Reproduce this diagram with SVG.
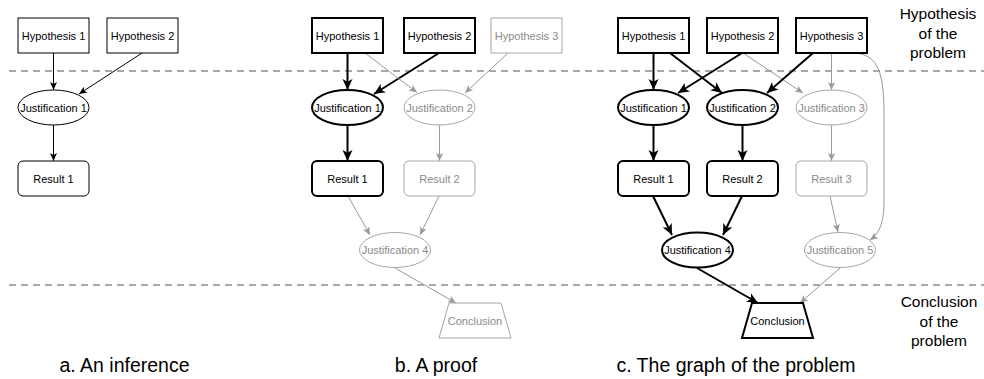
<svg xmlns="http://www.w3.org/2000/svg" width="984" height="379" viewBox="0 0 984 379">
<style>
text{font-family:"Liberation Sans",Arial,sans-serif;}
.n{font-size:11px;text-anchor:middle;fill:#000;}
.ng{font-size:11px;text-anchor:middle;fill:#8a8a8a;}
.box{fill:#fff;stroke:#000;stroke-width:1;}
.boxT{fill:#fff;stroke:#000;stroke-width:2;}
.boxG{fill:#fff;stroke:#a6a6a6;stroke-width:1;}
.e{stroke:#000;stroke-width:1;fill:none;marker-end:url(#ah);}
.eT{stroke:#000;stroke-width:2;fill:none;marker-end:url(#ahT);}
.eG{stroke:#999;stroke-width:1;fill:none;marker-end:url(#ahG);}
.dash{stroke:#8c8c8c;stroke-width:1.5;stroke-dasharray:7 5;fill:none;}
.cap{font-size:19.5px;text-anchor:middle;fill:#000;}
.side{font-size:15.5px;text-anchor:middle;fill:#000;}
</style>
<defs>
<marker id="ah" markerUnits="userSpaceOnUse" markerWidth="8" markerHeight="8" viewBox="0 0 8 8" refX="8" refY="4" orient="auto"><path d="M0,0.5 L8,4 L0,7.5 L2,4 Z" fill="#000"/></marker>
<marker id="ahT" markerUnits="userSpaceOnUse" markerWidth="11" markerHeight="11" viewBox="0 0 11 11" refX="11" refY="5.5" orient="auto"><path d="M0,0.5 L11,5.5 L0,10.5 L2.8,5.5 Z" fill="#000"/></marker>
<marker id="ahG" markerUnits="userSpaceOnUse" markerWidth="8" markerHeight="8" viewBox="0 0 8 8" refX="8" refY="4" orient="auto"><path d="M0,0.5 L8,4 L0,7.5 L2,4 Z" fill="#999"/></marker>
</defs>
<rect width="984" height="379" fill="#fff"/>
<g id="separators">
<line class="dash" x1="9" y1="71" x2="984" y2="71"/>
<line class="dash" x1="9" y1="285" x2="984" y2="285"/>
</g>
<g id="connectors">
<!-- panel a -->
<line class="e" x1="53.5" y1="53" x2="53.5" y2="90"/>
<line class="e" x1="142" y1="53" x2="79" y2="94"/>
<line class="e" x1="53.5" y1="125" x2="53.5" y2="161"/>
<!-- panel b -->
<line class="eT" x1="347.5" y1="53" x2="347.5" y2="90"/>
<line class="eT" x1="439" y1="53" x2="374" y2="94"/>
<line class="eG" x1="365" y1="53" x2="417" y2="92.5"/>
<line class="eG" x1="508" y1="53" x2="465" y2="93"/>
<line class="eT" x1="347.5" y1="125" x2="347.5" y2="161"/>
<line class="eG" x1="439.5" y1="125" x2="439.5" y2="161"/>
<line class="eG" x1="348" y1="196" x2="370" y2="235"/>
<line class="eG" x1="439" y1="196" x2="420" y2="235"/>
<line class="eG" x1="395" y1="268" x2="456" y2="303"/>
<!-- panel c -->
<line class="eT" x1="653.5" y1="53" x2="653.5" y2="90"/>
<line class="eT" x1="670" y1="53" x2="722" y2="93"/>
<line class="eT" x1="742" y1="53" x2="678" y2="93"/>
<line class="eG" x1="743" y1="53" x2="803" y2="93"/>
<line class="eT" x1="813" y1="53" x2="767" y2="93"/>
<line class="eG" x1="831.5" y1="53" x2="831.5" y2="90"/>
<path class="eG" d="M855,53 C878,55 884,72 884,115 L884,200 C884,222 880,233 870,240"/>
<line class="eT" x1="653.5" y1="125" x2="653.5" y2="161"/>
<line class="eT" x1="742.5" y1="125" x2="742.5" y2="161"/>
<line class="eG" x1="831.5" y1="125" x2="831.5" y2="161"/>
<line class="eT" x1="653" y1="196" x2="672" y2="235"/>
<line class="eT" x1="742" y1="196" x2="723" y2="235"/>
<line class="eG" x1="830" y1="196" x2="838" y2="232"/>
<line class="eT" x1="697" y1="268" x2="758" y2="303"/>
<line class="eG" x1="840" y1="268" x2="800" y2="303"/>
</g>
<!-- Panel a nodes -->
<g id="a-hyp1"><rect class="box" x="18" y="18" width="71" height="35"/><text class="n" x="53.5" y="39.5">Hypothesis 1</text></g>
<g id="a-hyp2"><rect class="box" x="107" y="18" width="71" height="35"/><text class="n" x="142.5" y="39.5">Hypothesis 2</text></g>
<g id="a-just1"><ellipse class="box" cx="53.5" cy="107.5" rx="35.5" ry="17.5"/><text class="n" x="53.5" y="111.5">Justification 1</text></g>
<g id="a-res1"><rect class="box" x="18" y="161" width="71" height="35" rx="5"/><text class="n" x="53.5" y="182.5">Result 1</text></g>
<!-- Panel b nodes -->
<g id="b-hyp1"><rect class="boxT" x="312" y="18" width="71" height="35"/><text class="n" x="347.5" y="39.5">Hypothesis 1</text></g>
<g id="b-hyp2"><rect class="boxT" x="404" y="18" width="71" height="35"/><text class="n" x="439.5" y="39.5">Hypothesis 2</text></g>
<g id="b-hyp3"><rect class="boxG" x="491" y="18" width="71" height="35"/><text class="ng" x="526.5" y="39.5">Hypothesis 3</text></g>
<g id="b-just1"><ellipse class="boxT" cx="347.5" cy="107.5" rx="35.5" ry="17.5"/><text class="n" x="347.5" y="111.5">Justification 1</text></g>
<g id="b-just2"><ellipse class="boxG" cx="439.5" cy="107.5" rx="35.5" ry="17.5"/><text class="ng" x="439.5" y="111.5">Justification 2</text></g>
<g id="b-res1"><rect class="boxT" x="312" y="161" width="71" height="35" rx="5"/><text class="n" x="347.5" y="182.5">Result 1</text></g>
<g id="b-res2"><rect class="boxG" x="404" y="161" width="71" height="35" rx="5"/><text class="ng" x="439.5" y="182.5">Result 2</text></g>
<g id="b-just4"><ellipse class="boxG" cx="395" cy="250" rx="35.5" ry="17.5"/><text class="ng" x="395" y="254">Justification 4</text></g>
<g id="b-concl"><polygon class="boxG" points="449,303 501,303 511,338 439,338"/><text class="ng" x="475" y="324.5">Conclusion</text></g>
<!-- Panel c nodes -->
<g id="c-hyp1"><rect class="boxT" x="618" y="18" width="71" height="35"/><text class="n" x="653.5" y="39.5">Hypothesis 1</text></g>
<g id="c-hyp2"><rect class="boxT" x="707" y="18" width="71" height="35"/><text class="n" x="742.5" y="39.5">Hypothesis 2</text></g>
<g id="c-hyp3"><rect class="boxT" x="796" y="18" width="71" height="35"/><text class="n" x="831.5" y="39.5">Hypothesis 3</text></g>
<g id="c-just1"><ellipse class="boxT" cx="653.5" cy="107.5" rx="35.5" ry="17.5"/><text class="n" x="653.5" y="111.5">Justification 1</text></g>
<g id="c-just2"><ellipse class="boxT" cx="742.5" cy="107.5" rx="35.5" ry="17.5"/><text class="n" x="742.5" y="111.5">Justification 2</text></g>
<g id="c-just3"><ellipse class="boxG" cx="831.5" cy="107.5" rx="35.5" ry="17.5"/><text class="ng" x="831.5" y="111.5">Justification 3</text></g>
<g id="c-res1"><rect class="boxT" x="618" y="161" width="71" height="35" rx="5"/><text class="n" x="653.5" y="182.5">Result 1</text></g>
<g id="c-res2"><rect class="boxT" x="707" y="161" width="71" height="35" rx="5"/><text class="n" x="742.5" y="182.5">Result 2</text></g>
<g id="c-res3"><rect class="boxG" x="796" y="161" width="71" height="35" rx="5"/><text class="ng" x="831.5" y="182.5">Result 3</text></g>
<g id="c-just4"><ellipse class="boxT" cx="697.5" cy="250" rx="35.5" ry="17.5"/><text class="n" x="697.5" y="254">Justification 4</text></g>
<g id="c-just5"><ellipse class="boxG" cx="840" cy="250" rx="35.5" ry="17.5"/><text class="ng" x="840" y="254">Justification 5</text></g>
<g id="c-concl"><polygon class="boxT" points="752,303 803,303 813,338 742,338"/><text class="n" x="777.5" y="324.5">Conclusion</text></g>
<!-- Labels -->
<g id="label-hyp"><text class="side" x="938" y="19">Hypothesis</text><text class="side" x="938" y="39">of the</text><text class="side" x="938" y="58">problem</text></g>
<g id="label-concl"><text class="side" x="939" y="307">Conclusion</text><text class="side" x="939" y="327">of the</text><text class="side" x="939" y="346">problem</text></g>
<g id="captions">
<text class="cap" x="124.5" y="372">a. An inference</text>
<text class="cap" x="436" y="372">b. A proof</text>
<text class="cap" x="736" y="372">c. The graph of the problem</text>
</g>
</svg>
